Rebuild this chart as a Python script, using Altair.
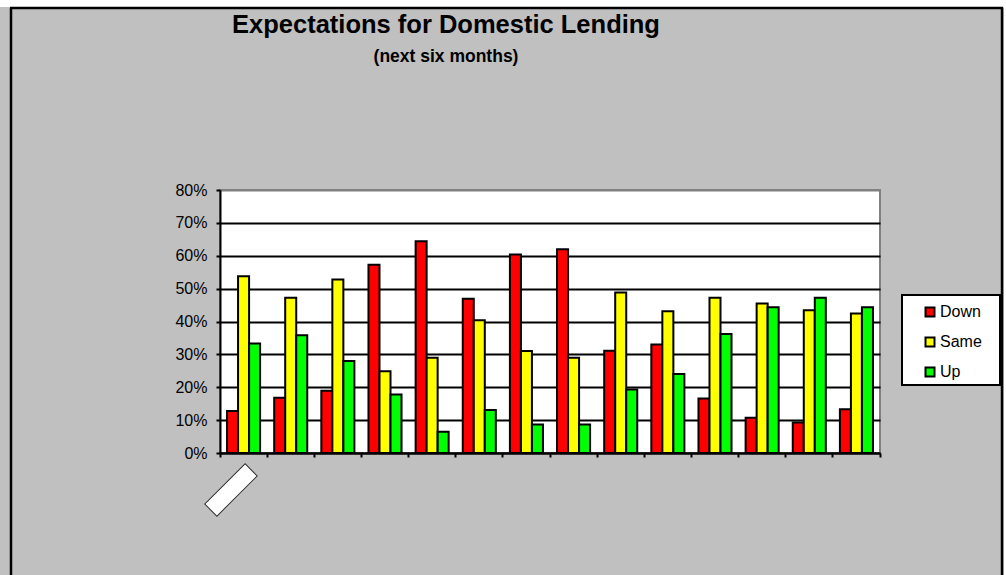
import altair as alt
import pandas as pd

# ---- data ----
periods = ["1", "2", "3", "4", "5", "6", "7", "8", "9", "10", "11", "12", "13", "14"]
series = ["Down", "Same", "Up"]
down = [12.8, 16.8, 18.9, 57.3, 64.4, 46.9, 60.4, 62.0, 31.1, 33.0, 16.6, 10.7, 9.3, 13.3]
same = [53.8, 47.2, 52.8, 24.9, 29.0, 40.4, 31.0, 29.0, 48.8, 43.1, 47.2, 45.5, 43.4, 42.4]
up = [33.3, 35.8, 28.0, 17.8, 6.5, 13.1, 8.7, 8.7, 19.3, 24.0, 36.2, 44.3, 47.2, 44.3]
colors = ["#FF0000", "#FFFF00", "#00FF00"]
y_ticks = [0, 0.1, 0.2, 0.3, 0.4, 0.5, 0.6, 0.7, 0.8]
title_text = "Expectations for Domestic Lending"
subtitle_text = "(next six months)"

rows = []
for name, vals in zip(series, [down, same, up]):
    for p, v in zip(periods, vals):
        rows.append({"period": p, "series": name, "value": v / 100.0})
df = pd.DataFrame(rows)

FONT = "Liberation Sans, Arial, sans-serif"
W, H = 660, 263

bars = alt.Chart(df).mark_bar(stroke="black", strokeWidth=2).encode(
    x=alt.X(
        "period:N",
        sort=periods,
        scale=alt.Scale(paddingInner=0, paddingOuter=0),
        axis=alt.Axis(
            labels=False, title=None, bandPosition=1, tickExtra=True,
            tickSize=4, tickWidth=2, tickColor="black",
            domainColor="black", domainWidth=2, grid=False,
        ),
    ),
    xOffset=alt.XOffset("series:N", sort=series,
                        scale=alt.Scale(paddingInner=0, paddingOuter=0.64)),
    y=alt.Y(
        "value:Q",
        scale=alt.Scale(domain=[0, 0.8], nice=False),
        axis=alt.Axis(
            values=y_ticks, format=".0%", title=None,
            labelFont=FONT, labelFontSize=16, labelColor="black", labelPadding=9,
            tickSize=4, tickWidth=2, tickColor="black",
            domainColor="black", domainWidth=2,
            grid=True, gridWidth=2,
            gridColor=alt.condition("datum.value > 0.75", alt.value("#808080"), alt.value("black")),
        ),
    ),
    color=alt.Color(
        "series:N",
        sort=series,
        scale=alt.Scale(domain=series, range=colors),
        legend=alt.Legend(
            orient="none", legendX=702, legendY=114, title=None,
            labelFont=FONT, labelFontSize=16, labelColor="black", labelOffset=2,
            symbolType="square", symbolSize=81,
            symbolStrokeColor="black", symbolStrokeWidth=2,
            rowPadding=12, padding=0,
        ),
    ),
)

one = alt.Data(values=[{}])

legend_box = alt.Chart(one).mark_rect(fill="white", stroke="black", strokeWidth=2).encode(
    x=alt.value(682), x2=alt.value(780), y=alt.value(105), y2=alt.value(195)
)

title1 = alt.Chart(one).mark_text(
    text=title_text, font=FONT, fontSize=25.5, fontWeight="bold",
    align="center", baseline="alphabetic", color="black",
).encode(x=alt.value(226), y=alt.value(-157))

title2 = alt.Chart(one).mark_text(
    text=subtitle_text, font=FONT, fontSize=17.5, fontWeight="bold",
    align="center", baseline="alphabetic", color="black",
).encode(x=alt.value(226), y=alt.value(-128))

# blank rotated category-label box under the first group
label_box = alt.Chart(one).mark_point(
    shape="M-1,-0.3L1,-0.3L1,0.3L-1,0.3Z", size=3249, angle=315,
    filled=True, fill="white", stroke="#303030", strokeWidth=1, opacity=1,
).encode(x=alt.value(11), y=alt.value(300))

# outer chart-area frame
top_white = alt.Chart(one).mark_rect(fill="white").encode(
    x=alt.value(-220), x2=alt.value(786), y=alt.value(-190), y2=alt.value(-183)
)
right_white = alt.Chart(one).mark_rect(fill="white").encode(
    x=alt.value(784), x2=alt.value(786), y=alt.value(-190), y2=alt.value(385)
)
frame_top = alt.Chart(one).mark_rule(color="black", strokeWidth=2.5).encode(
    x=alt.value(-210), x2=alt.value(783), y=alt.value(-182)
)
frame_left = alt.Chart(one).mark_rule(color="black", strokeWidth=2.5).encode(
    x=alt.value(-209), y=alt.value(-182), y2=alt.value(385)
)
frame_right = alt.Chart(one).mark_rule(color="black", strokeWidth=2.5).encode(
    x=alt.value(782), y=alt.value(-182), y2=alt.value(385)
)

chart = alt.layer(
    top_white, right_white, frame_top, frame_left, frame_right,
    legend_box, bars, title1, title2, label_box,
).properties(
    width=W, height=H,
    autosize=alt.AutoSizeParams(type="none"),
    padding={"left": 220, "top": 190, "right": 126, "bottom": 122},
    background="#C0C0C0",
).configure_view(
    fill="white", stroke="#808080", strokeWidth=2
)

chart.save("out.html", embed_options={"renderer": "svg", "actions": False})
